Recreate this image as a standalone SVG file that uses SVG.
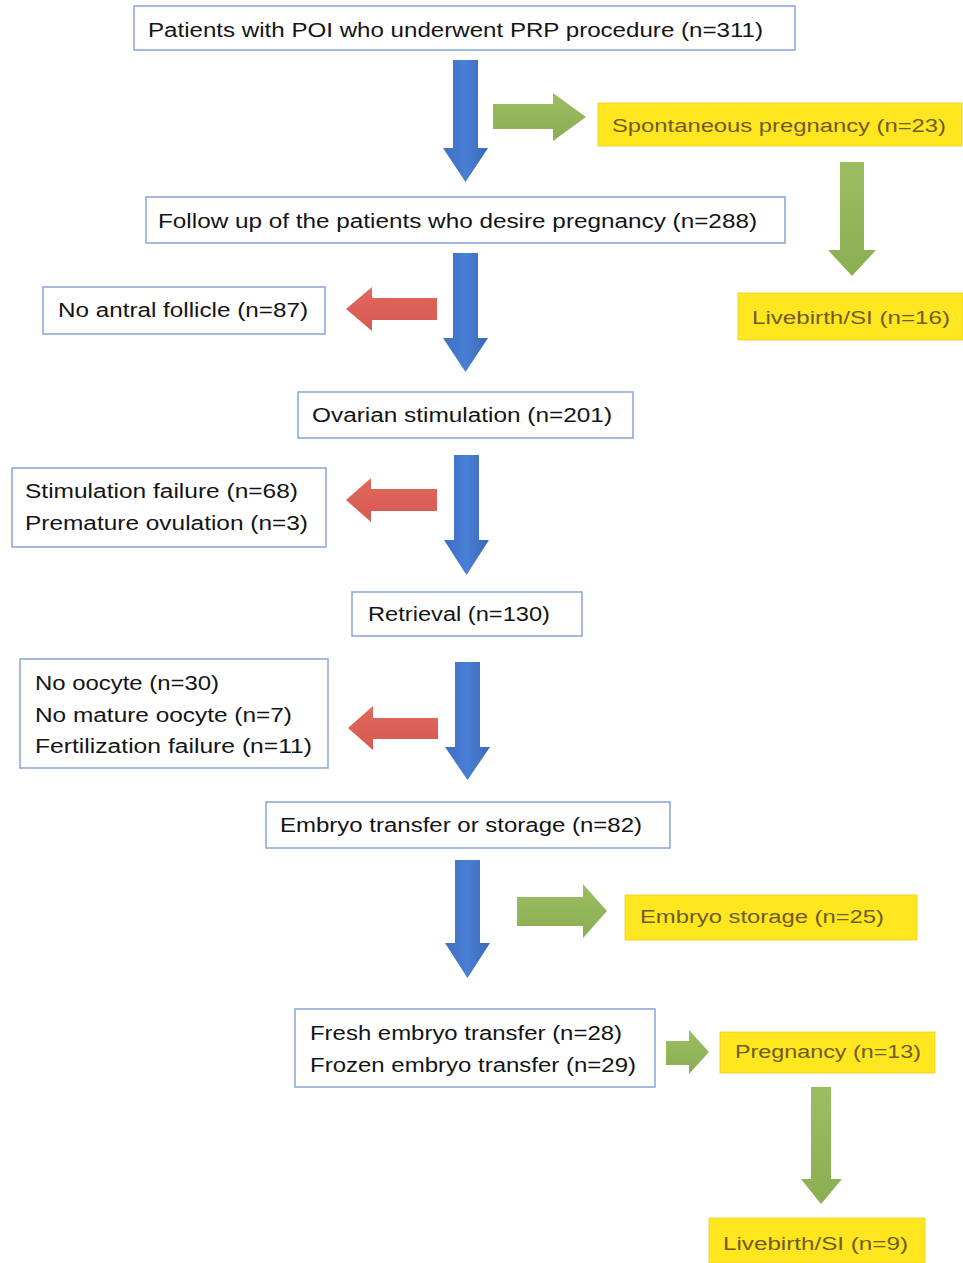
<svg xmlns="http://www.w3.org/2000/svg" width="963" height="1263" viewBox="0 0 963 1263">
<defs>
<linearGradient id="gBlue" x1="0" y1="0" x2="1" y2="0">
<stop offset="0" stop-color="#3d6fc4"/><stop offset="0.5" stop-color="#4a7fd6"/><stop offset="1" stop-color="#3a68b8"/>
</linearGradient>
<linearGradient id="gGreen" x1="0" y1="0" x2="0" y2="1">
<stop offset="0" stop-color="#9dbd62"/><stop offset="1" stop-color="#8aae52"/>
</linearGradient>
<linearGradient id="gRed" x1="0" y1="0" x2="0" y2="1">
<stop offset="0" stop-color="#e2685e"/><stop offset="1" stop-color="#d45a52"/>
</linearGradient>
</defs>
<style>
.box{fill:#ffffff;stroke:#8fa9dc;stroke-width:1.6}
.ybox{fill:#ffe61e;stroke:#e8d020;stroke-width:0.8}
.t{font-family:"Liberation Sans",Arial,sans-serif;font-size:20px;fill:#141414}
.yt{font-family:"Liberation Sans",Arial,sans-serif;font-size:18px;fill:#6e5c24}
.blue{fill:url(#gBlue)}
.green{fill:url(#gGreen)}
.red{fill:url(#gRed)}
</style>
<rect width="963" height="1263" fill="#ffffff"/>

<g id="connectors">
<!-- blue down arrows -->
<polygon class="blue" points="453,60 478,60 478,148 488,148 465.5,182 443,148 453,148"/>
<polygon class="blue" points="453,253 478,253 478,338 488,338 465.5,372 443,338 453,338"/>
<polygon class="blue" points="454,455 479,455 479,540 489,540 466.5,575 444,540 454,540"/>
<polygon class="blue" points="455,662 480,662 480,747 490,747 467.5,780 445,747 455,747"/>
<polygon class="blue" points="455,860 480,860 480,943 490,943 467.5,978 445,943 455,943"/>
<!-- green arrows -->
<polygon class="green" points="493,104 553,104 553,93 586,117 553,141 553,129 493,129"/>
<polygon class="green" points="840,162 864,162 864,250 876,250 852,276 828,250 840,250"/>
<polygon class="green" points="517,897 583,897 583,884 607,911 583,938 583,926 517,926"/>
<polygon class="green" points="666,1041 689,1041 689,1030 709,1052 689,1074 689,1065 666,1065"/>
<polygon class="green" points="811,1087 831,1087 831,1179 842,1179 821,1204 801,1179 811,1179"/>
<!-- red arrows -->
<polygon class="red" points="437,298 372,298 372,287 346,309 372,331 372,320 437,320"/>
<polygon class="red" points="437,489 371,489 371,478 346,500 371,522 371,511 437,511"/>
<polygon class="red" points="438,718 373,718 373,706 348,728 373,750 373,739 438,739"/>
</g>

<g id="n1"><rect class="box" x="134" y="6" width="661" height="44"/>
<text class="t" x="148" y="37" textLength="615" lengthAdjust="spacingAndGlyphs">Patients with POI who underwent PRP procedure (n=311)</text></g>

<g id="n2"><rect class="ybox" x="598" y="103" width="364" height="43"/>
<text class="yt" x="612" y="132" textLength="334" lengthAdjust="spacingAndGlyphs">Spontaneous pregnancy (n=23)</text></g>

<g id="n3"><rect class="box" x="146" y="197" width="639" height="46"/>
<text class="t" x="158" y="228" textLength="599" lengthAdjust="spacingAndGlyphs">Follow up of the patients who desire pregnancy (n=288)</text></g>

<g id="n4"><rect class="box" x="43" y="287" width="282" height="47"/>
<text class="t" x="58" y="317" textLength="250" lengthAdjust="spacingAndGlyphs">No antral follicle (n=87)</text></g>

<g id="n5"><rect class="ybox" x="738" y="293" width="225" height="47"/>
<text class="yt" x="752" y="324" textLength="198" lengthAdjust="spacingAndGlyphs">Livebirth/SI (n=16)</text></g>

<g id="n6"><rect class="box" x="298" y="392" width="335" height="46"/>
<text class="t" x="312" y="422" textLength="300" lengthAdjust="spacingAndGlyphs">Ovarian stimulation (n=201)</text></g>

<g id="n7"><rect class="box" x="12" y="468" width="314" height="79"/>
<text class="t" x="25" y="498" textLength="273" lengthAdjust="spacingAndGlyphs">Stimulation failure (n=68)</text>
<text class="t" x="25" y="530" textLength="283" lengthAdjust="spacingAndGlyphs">Premature ovulation (n=3)</text></g>

<g id="n8"><rect class="box" x="352" y="592" width="230" height="44"/>
<text class="t" x="368" y="621" textLength="182" lengthAdjust="spacingAndGlyphs">Retrieval (n=130)</text></g>

<g id="n9"><rect class="box" x="20" y="659" width="308" height="109"/>
<text class="t" x="35" y="690" textLength="184" lengthAdjust="spacingAndGlyphs">No oocyte (n=30)</text>
<text class="t" x="35" y="722" textLength="257" lengthAdjust="spacingAndGlyphs">No mature oocyte (n=7)</text>
<text class="t" x="35" y="753" textLength="277" lengthAdjust="spacingAndGlyphs">Fertilization failure (n=11)</text></g>

<g id="n10"><rect class="box" x="266" y="802" width="404" height="46"/>
<text class="t" x="280" y="832" textLength="362" lengthAdjust="spacingAndGlyphs">Embryo transfer or storage (n=82)</text></g>

<g id="n11"><rect class="ybox" x="625" y="895" width="292" height="45"/>
<text class="yt" x="640" y="923" textLength="244" lengthAdjust="spacingAndGlyphs">Embryo storage (n=25)</text></g>

<g id="n12"><rect class="box" x="295" y="1009" width="360" height="78"/>
<text class="t" x="310" y="1040" textLength="312" lengthAdjust="spacingAndGlyphs">Fresh embryo transfer (n=28)</text>
<text class="t" x="310" y="1072" textLength="326" lengthAdjust="spacingAndGlyphs">Frozen embryo transfer (n=29)</text></g>

<g id="n13"><rect class="ybox" x="720" y="1032" width="215" height="41"/>
<text class="yt" x="735" y="1058" textLength="186" lengthAdjust="spacingAndGlyphs">Pregnancy (n=13)</text></g>

<g id="n14"><rect class="ybox" x="709" y="1218" width="216" height="45"/>
<text class="yt" x="723" y="1250" textLength="185" lengthAdjust="spacingAndGlyphs">Livebirth/SI (n=9)</text></g>
</svg>
